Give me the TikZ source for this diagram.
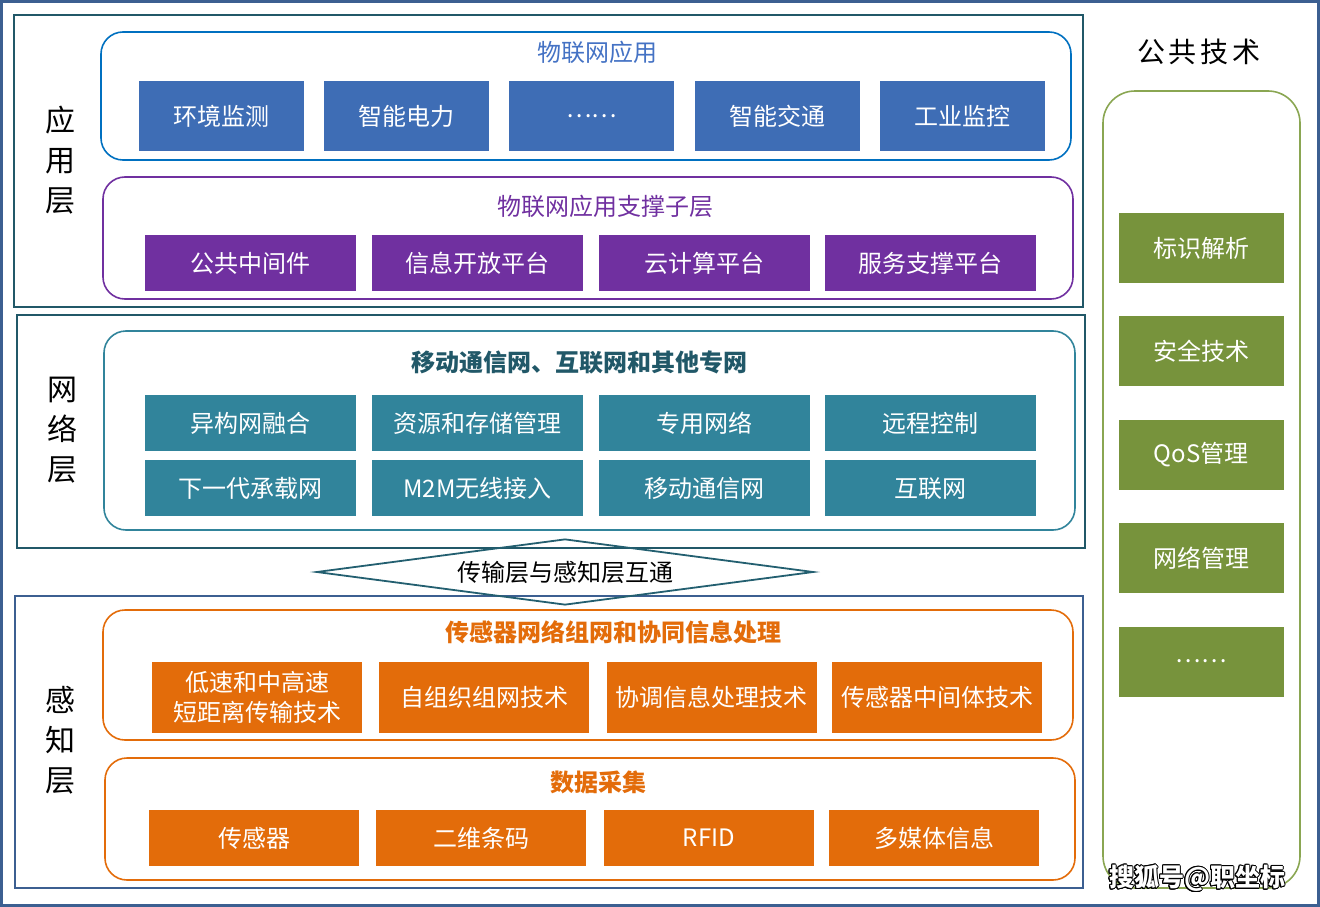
\documentclass[tikz,border=0pt]{standalone}
\usepackage{fontspec}
\setmainfont{Noto Sans CJK SC}
\usepackage[copies]{contour}
\usetikzlibrary{positioning,shapes.geometric}
\definecolor{frameblue}{HTML}{3C5F91}
\definecolor{layerteal}{HTML}{215868}
\definecolor{appline}{HTML}{0070C0}
\definecolor{appblue}{HTML}{3E6DB5}
\definecolor{apptext}{HTML}{4472C4}
\definecolor{suppurple}{HTML}{7030A0}
\definecolor{netteal}{HTML}{31849B}
\definecolor{sensorange}{HTML}{E36C0A}
\definecolor{pubgreen}{HTML}{77933C}
\definecolor{publine}{HTML}{8AA652}
\contourlength{1pt}
\tikzset{
  layer/.style={draw=layerteal, line width=2pt, inner sep=0pt},
  group/.style={draw, rounded corners=22pt, line width=1.6pt, inner sep=0pt},
  title/.style={inner sep=0pt, font=\fontsize{24}{28}\selectfont},
  side/.style={inner sep=0pt, align=center, font=\fontsize{30}{40}\selectfont},
  cell/.style={inner sep=0pt, text=white, align=center, font=\fontsize{24}{30}\selectfont},
  appcell/.style={cell, fill=appblue, minimum width=165pt, minimum height=70pt},
  supcell/.style={cell, fill=suppurple, minimum width=211pt, minimum height=56pt},
  netcell/.style={cell, fill=netteal, minimum width=211pt, minimum height=56pt},
  senscell/.style={cell, fill=sensorange, minimum width=210pt, minimum height=71pt},
  datacell/.style={cell, fill=sensorange, minimum width=210pt, minimum height=56pt},
  pubcell/.style={cell, fill=pubgreen, minimum width=165pt, minimum height=70pt}
}

\begin{document}
\begin{tikzpicture}[x=1pt, y=-1pt]
  \useasboundingbox (0,0) rectangle (1320,907);
  \draw[frameblue, line width=3pt] (1.5,1.5) rectangle (1318.5,905.5);

  % three layers
  \node[layer, minimum width=1069pt, minimum height=292pt] (applayer) at (548.5,161) {};
  \node[layer, minimum width=1068pt, minimum height=233pt] (netlayer) at (551,431.5) {};
  \node[layer, draw=frameblue, minimum width=1068pt, minimum height=292pt] (senslayer) at (549,742) {};
  \node[side] (applabel) at (60,160) {应\\用\\层};
  \node[side] (netlabel) at (62,430) {网\\络\\层};
  \node[side] (senslabel) at (60,740) {感\\知\\层};

  % application layer
  \node[group, draw=appline, minimum width=970pt, minimum height=128pt] (appgroup) at (586,96) {};
  \node[title, text=apptext] (apptitle) at (597,52) {物联网应用};
  \node[appcell] (env) at (221,116) {环境监测};
  \node[appcell, right=20pt of env] (power) {智能电力};
  \node[appcell, right=20pt of power] (appmore) {……};
  \node[appcell, right=20pt of appmore] (traffic) {智能交通};
  \node[appcell, right=20pt of traffic] (industry) {工业监控};

  \node[group, draw=suppurple, minimum width=970pt, minimum height=122pt] (supgroup) at (588,238) {};
  \node[title, text=suppurple] (suptitle) at (605,206) {物联网应用支撑子层};
  \node[supcell] (middleware) at (250,263) {公共中间件};
  \node[supcell, right=16pt of middleware] (openinfo) {信息开放平台};
  \node[supcell, right=16pt of openinfo] (cloud) {云计算平台};
  \node[supcell, right=14pt of cloud] (service) {服务支撑平台};

  % network layer
  \node[group, draw=netteal, minimum width=971pt, minimum height=199pt] (netgroup) at (589.5,430.5) {};
  \node[title, text=layerteal, font=\fontsize{24}{28}\selectfont\bfseries] (nettitle) at (579,362) {移动通信网、互联网和其他专网};
  \node[netcell] (hetero) at (250,423) {异构网融合};
  \node[netcell, right=16pt of hetero] (storage) {资源和存储管理};
  \node[netcell, right=16pt of storage] (private) {专用网络};
  \node[netcell, right=14pt of private] (remote) {远程控制};
  \node[netcell, below=9pt of hetero] (nextgen) {下一代承载网};
  \node[netcell, below=9pt of storage] (mtom) {M2M无线接入};
  \node[netcell, below=9pt of private] (mobile) {移动通信网};
  \node[netcell, below=9pt of remote] (internet) {互联网};

  \node[draw=layerteal!85!netteal, line width=1.8pt, diamond, aspect=7.5, inner sep=0pt,
        minimum width=497pt, minimum height=66pt, font=\fontsize{24}{28}\selectfont] (bridge) at (565,572) {传输层与感知层互通};

  % sensing layer
  \node[group, draw=sensorange, minimum width=970pt, minimum height=130pt] (sensgroup) at (588,675) {};
  \node[title, text=sensorange, font=\fontsize{24}{28}\selectfont\bfseries] (senstitle) at (613,632) {传感器网络组网和协同信息处理};
  \node[senscell] (shortrange) at (257,697.5) {低速和中高速\\短距离传输技术};
  \node[senscell, right=17pt of shortrange] (selforg) {自组织组网技术};
  \node[senscell, right=17pt of selforg] (coord) {协调信息处理技术};
  \node[senscell, right=15pt of coord] (sensmid) {传感器中间体技术};

  \node[group, draw=sensorange, minimum width=970pt, minimum height=122pt] (datagroup) at (590,819) {};
  \node[title, text=sensorange, font=\fontsize{24}{28}\selectfont\bfseries] (datatitle) at (598,782) {数据采集};
  \node[datacell] (sensor) at (254,838) {传感器};
  \node[datacell, right=17pt of sensor] (qrcode) {二维条码};
  \node[datacell, right=17pt of qrcode] (rfid) {RFID};
  \node[datacell, right=15pt of rfid] (media) {多媒体信息};

  % public technology
  \node[title, font=\fontsize{28}{32}\selectfont] (pubtitle) at (1199,52) {公\hspace{4pt}共\hspace{4pt}技\hspace{4pt}术};
  \node[group, draw=publine, rounded corners=32pt, minimum width=197pt, minimum height=797pt] (pubgroup) at (1201.5,489.5) {};
  \node[pubcell] (ident) at (1201,248) {标识解析};
  \node[pubcell, below=33pt of ident] (security) {安全技术};
  \node[pubcell, below=33pt of security] (qos) {QoS管理};
  \node[pubcell, below=33pt of qos] (netmgmt) {网络管理};
  \node[pubcell, below=33pt of netmgmt] (pubmore) {……};

  \node[inner sep=0pt, text=white, font=\fontsize{25}{28}\selectfont\bfseries] (mark) at (1197,879) {\contour{black}{搜狐号@职坐标}};
\end{tikzpicture}
\end{document}
